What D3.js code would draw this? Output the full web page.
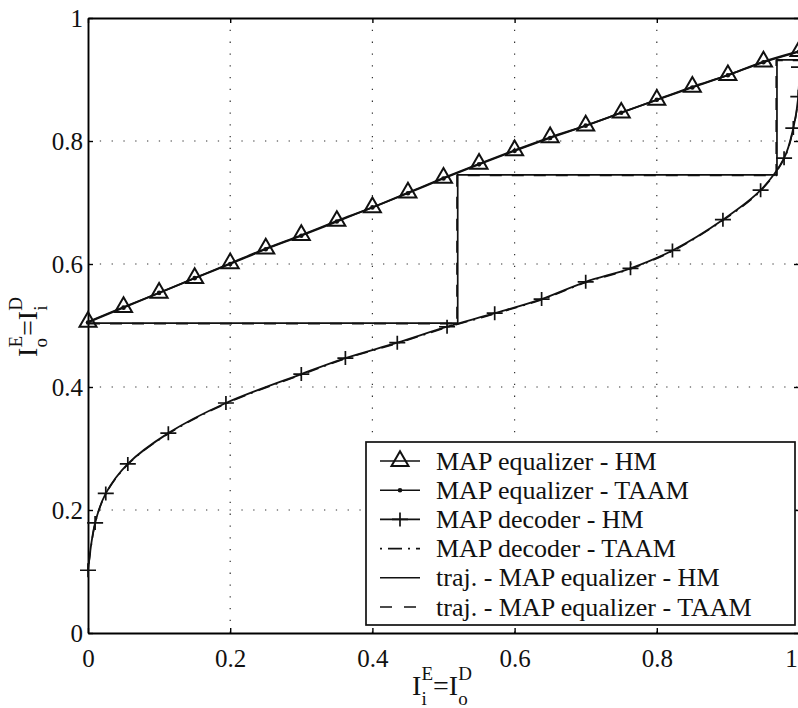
<!DOCTYPE html>
<html>
<head>
<meta charset="utf-8">
<script src="https://cdn.jsdelivr.net/npm/d3@7"></script>
<style>
  html, body { margin: 0; padding: 0; background: #fff; }
  svg { display: block; }
</style>
</head>
<body>
<svg id="chart"></svg>
<script>
// ---- data ----
var xTicks = [0, 0.2, 0.4, 0.6, 0.8, 1]
var yTicks = [0, 0.2, 0.4, 0.6, 0.8, 1]
var tickLabels = ["0", "0.2", "0.4", "0.6", "0.8", "1"]

// MAP equalizer transfer curves (markers every 0.05)
var eqX = [0, 0.05, 0.1, 0.15, 0.2, 0.25, 0.3, 0.35, 0.4, 0.45, 0.5,
           0.55, 0.6, 0.65, 0.7, 0.75, 0.8, 0.85, 0.9, 0.95, 1]
var eqHM = [0.506, 0.530, 0.553, 0.577, 0.601, 0.625, 0.647, 0.670, 0.692, 0.716, 0.740,
            0.763, 0.785, 0.806, 0.825, 0.846, 0.867, 0.888, 0.907, 0.929, 0.946]
var eqTAAM = [0.505, 0.529, 0.553, 0.577, 0.600, 0.624, 0.646, 0.669, 0.692, 0.715, 0.739,
              0.762, 0.784, 0.805, 0.825, 0.846, 0.867, 0.887, 0.907, 0.928, 0.945]

// MAP decoder curves (x = I_o^D, y = I_i^D)
var decX = [0, 0.010, 0.025, 0.056, 0.113, 0.194, 0.300, 0.362, 0.435, 0.505, 0.572,
            0.638, 0.700, 0.763, 0.822, 0.893, 0.946, 0.979, 0.992, 0.999, 1.0]
var decHM = [0.102, 0.179, 0.227, 0.275, 0.325, 0.374, 0.421, 0.447, 0.472, 0.498, 0.520,
             0.543, 0.571, 0.593, 0.622, 0.672, 0.720, 0.772, 0.821, 0.872, 0.920]
var decTAAM = [0.100, 0.178, 0.226, 0.274, 0.324, 0.373, 0.420, 0.446, 0.471, 0.497, 0.519,
               0.542, 0.570, 0.592, 0.621, 0.671, 0.719, 0.771, 0.820, 0.871, 0.922]

// decoding trajectories (staircase)
var trajX = [0, 0.520, 0.520, 0.969, 0.969, 1.0]
var trajHM = [0.504, 0.504, 0.745, 0.745, 0.932, 0.932]
var trajXT = [0, 0.519, 0.519, 0.968, 0.968, 1.0]
var trajTAAM = [0.503, 0.503, 0.744, 0.744, 0.931, 0.931]

var legendLabels = ["MAP equalizer - HM", "MAP equalizer - TAAM", "MAP decoder - HM",
                    "MAP decoder - TAAM", "traj. - MAP equalizer - HM", "traj. - MAP equalizer - TAAM"]

// ---- layout ----
var margin = {top: 18, right: 0, bottom: 75, left: 88}
var width = 711
var height = 615
var serif = "Liberation Serif, DejaVu Serif, serif"

var svg = d3.select("#chart")
    .attr("width", 798)
    .attr("height", 708)
    .attr("font-family", serif)

var x = d3.scaleLinear().domain([0, 1]).range([margin.left, margin.left + width])
var y = d3.scaleLinear().domain([0, 1]).range([margin.top + height, margin.top])

var zip = (xs, ys) => xs.map((v, i) => ({x: v, y: ys[i]}))

// grid
var grid = svg.append("g")
    .attr("stroke", "#333")
    .attr("stroke-width", 1.2)
    .attr("stroke-dasharray", "1.3,10.5")

grid.selectAll("line.v")
    .data(xTicks.slice(1, -1))
    .enter().append("line")
    .attr("x1", d => x(d)).attr("x2", d => x(d))
    .attr("y1", y(1)).attr("y2", y(0))

grid.selectAll("line.h")
    .data(yTicks.slice(1, -1))
    .enter().append("line")
    .attr("x1", x(0)).attr("x2", x(1))
    .attr("y1", d => y(d)).attr("y2", d => y(d))

// axes (inward ticks on all four sides, like matlab box)
function styleAxis(g) {
    g.attr("font-family", serif)
    g.select(".domain").attr("stroke-width", 1.9)
    g.selectAll(".tick line").attr("stroke-width", 1.4)
    g.selectAll("text")
        .attr("font-size", 25)
        .attr("fill", "#111")
}

var xAxis = svg.append("g")
    .attr("transform", "translate(0," + y(0) + ")")
    .call(d3.axisBottom(x).tickValues(xTicks).tickFormat((d, i) => tickLabels[i])
        .tickSizeInner(-5).tickSizeOuter(0).tickPadding(16))
    .call(styleAxis)
// last label sits on the clipped right edge; nudge it inside
xAxis.selectAll(".tick text").filter(d => d === 1).attr("dx", -8)

svg.append("g")
    .attr("transform", "translate(" + x(0) + ",0)")
    .call(d3.axisLeft(y).tickValues(yTicks).tickFormat((d, i) => tickLabels[i])
        .tickSizeInner(-5).tickSizeOuter(0).tickPadding(5))
    .call(styleAxis)

svg.append("g")
    .attr("transform", "translate(0," + y(1) + ")")
    .call(d3.axisTop(x).tickValues(xTicks).tickFormat("").tickSizeInner(-5).tickSizeOuter(0))
    .call(styleAxis)

svg.append("g")
    .attr("transform", "translate(" + x(1) + ",0)")
    .call(d3.axisRight(y).tickValues(yTicks).tickFormat("").tickSizeInner(-5).tickSizeOuter(0))
    .call(styleAxis)

// curves
var smooth = d3.line().x(d => x(d.x)).y(d => y(d.y)).curve(d3.curveCatmullRom.alpha(0.5))
var straight = d3.line().x(d => x(d.x)).y(d => y(d.y))

var plot = svg.append("g").attr("fill", "none").attr("stroke", "#111")

plot.append("path").datum(zip(trajX, trajHM))
    .attr("d", straight).attr("stroke-width", 1.7)
plot.append("path").datum(zip(trajXT, trajTAAM))
    .attr("d", straight).attr("stroke-width", 1.7).attr("stroke-dasharray", "12,10")

plot.append("path").datum(zip(decX, decTAAM))
    .attr("d", smooth).attr("stroke-width", 1.6).attr("stroke-dasharray", "2,6,12,6")
plot.append("path").datum(zip(decX, decHM))
    .attr("d", smooth).attr("stroke-width", 1.8)

plot.append("path").datum(zip(eqX, eqTAAM))
    .attr("d", smooth).attr("stroke-width", 1.8)
plot.append("path").datum(zip(eqX, eqHM))
    .attr("d", smooth).attr("stroke-width", 1.8)

// markers
var tri = d3.symbol().type(d3.symbolTriangle).size(125)
var plus = "M-8,0H8M0,-7V7"

plot.append("g").selectAll("path")
    .data(zip(eqX, eqHM))
    .enter().append("path")
    .attr("d", tri)
    .attr("transform", d => `translate(${x(d.x)},${y(d.y)})`)
    .attr("stroke-width", 2)

svg.append("g").selectAll("circle")
    .data(zip(eqX, eqTAAM))
    .enter().append("circle")
    .attr("cx", d => x(d.x)).attr("cy", d => y(d.y))
    .attr("r", 2.3).attr("fill", "#111")

plot.append("g").selectAll("path")
    .data(zip(decX, decHM))
    .enter().append("path")
    .attr("d", plus)
    .attr("transform", d => `translate(${x(d.x)},${y(d.y)})`)
    .attr("stroke-width", 1.7)

// legend
var legend = svg.append("g")
legend.append("rect")
    .attr("x", 366).attr("y", 442)
    .attr("width", 429).attr("height", 183)
    .attr("fill", "#fff").attr("stroke", "#111").attr("stroke-width", 1.7)

var rowY = i => 461 + i * 29.2
var rows = legend.selectAll("g.row")
    .data(legendLabels)
    .enter().append("g")
    .attr("transform", (d, i) => "translate(0," + rowY(i) + ")")

rows.append("text")
    .attr("x", 436).attr("y", 0).attr("dy", "0.33em")
    .attr("font-size", 26).attr("fill", "#111")
    .text(d => d)

var sample = rows.append("line")
    .attr("x1", 380).attr("x2", 420).attr("y1", 0).attr("y2", 0)
    .attr("stroke", "#111").attr("stroke-width", 1.6)
sample.filter((d, i) => i === 3).attr("stroke-dasharray", "2,6,14,6")
sample.filter((d, i) => i === 5).attr("stroke-dasharray", "12,12")

rows.filter((d, i) => i === 0).append("path")
    .attr("d", tri).attr("transform", "translate(400,0)")
    .attr("fill", "none").attr("stroke", "#111").attr("stroke-width", 2)
rows.filter((d, i) => i === 1).append("circle")
    .attr("cx", 400).attr("r", 2.3).attr("fill", "#111")
rows.filter((d, i) => i === 2).append("path")
    .attr("d", plus).attr("transform", "translate(400,0)")
    .attr("stroke", "#111").attr("stroke-width", 1.7)

// axis labels built from main letters with stacked super/subscripts
function eqLabel(g, parts, big, small) {
    var cx = 0
    parts.forEach(p => {
        var t = g.append("text").attr("x", cx).attr("y", 0)
            .attr("font-size", big).attr("fill", "#111").text(p.main)
        var w = t.node().getComputedTextLength()
        cx += w
        var extra = 0
        if (p.sup) {
            var s = g.append("text").attr("x", cx).attr("y", -15)
                .attr("font-size", small).attr("fill", "#111").text(p.sup)
            extra = Math.max(extra, s.node().getComputedTextLength())
        }
        if (p.sub) {
            var b = g.append("text").attr("x", cx).attr("y", 10)
                .attr("font-size", small).attr("fill", "#111").text(p.sub)
            extra = Math.max(extra, b.node().getComputedTextLength())
        }
        cx += extra
    })
    return cx
}

var xl = svg.append("g")
var xw = eqLabel(xl, [{main: "I", sup: "E", sub: "i"}, {main: "="}, {main: "I", sup: "D", sub: "o"}], 28, 19)
xl.attr("transform", "translate(" + (442 - xw / 2) + ",695)")

var yl = svg.append("g")
var yw = eqLabel(yl, [{main: "I", sup: "E", sub: "o"}, {main: "="}, {main: "I", sup: "D", sub: "i"}], 28, 19)
yl.attr("transform", "translate(37," + (327 + yw / 2) + ") rotate(-90)")
</script>
</body>
</html>
